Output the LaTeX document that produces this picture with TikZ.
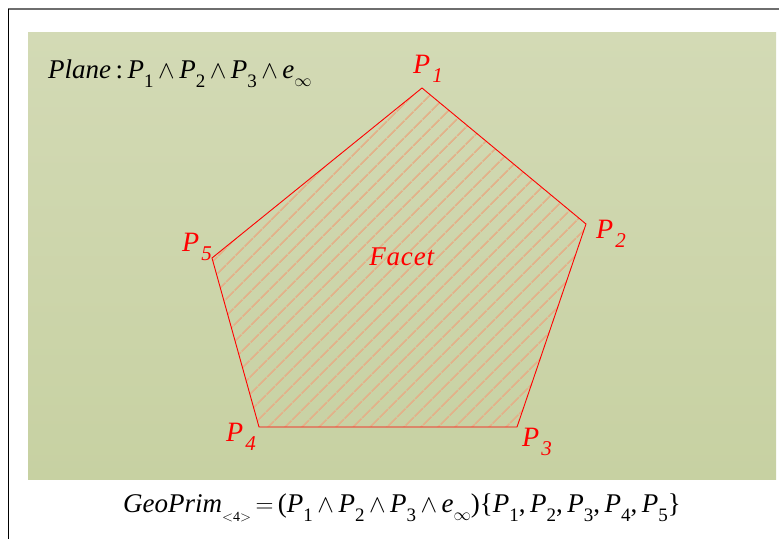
\documentclass[tikz,border=0pt]{standalone}
\usepackage{fontspec}
\setmainfont{Liberation Serif}
\usepackage{tikz}
\usetikzlibrary{patterns.meta}

\definecolor{bgtop}{RGB}{211,218,181}
\definecolor{bgbot}{RGB}{199,209,162}
\definecolor{hatchc}{RGB}{226,178,138}
\definecolor{framegray}{RGB}{110,110,110}

% point with upright index (formulas)
\newcommand{\Pf}[1]{\textit{P}\raisebox{-0.33em}{\fontsize{19}{19}\selectfont #1}}
% point with italic index (vertex labels)
\newcommand{\Pv}[1]{\textit{P}\kern2pt\raisebox{-0.3em}{\fontsize{21}{21}\selectfont\itshape #1}}
\newcommand{\einf}{\textit{e}\raisebox{-0.3em}{\fontsize{16}{16}\selectfont$\infty$}}
\newcommand{\we}{\,$\wedge$\,}

\tikzset{
  formula/.style={font=\fontsize{27}{30}\selectfont, inner sep=0pt},
  vlabel/.style={font=\fontsize{28}{30}\selectfont, text=red, inner sep=0pt},
  facet/.style={draw=red, line width=0.9pt, line join=miter,
    pattern={Lines[angle=45, distance=13pt, line width=1.9pt]}, pattern color=hatchc}
}

\begin{document}
\begin{tikzpicture}[x=1pt, y=-1pt]
\useasboundingbox (0,0) rectangle (779,539);

% frame and background
\draw[framegray, line width=1.8pt] (8,9) -- (779,9);
\draw[black, line width=1.4pt] (8.5,8.5) -- (8.5,539);
\shade[top color=bgtop, bottom color=bgbot] (28,32) rectangle (776,479);

% vertices of the facet
\coordinate (p1) at (422,88);
\coordinate (p2) at (586,224);
\coordinate (p3) at (517,427);
\coordinate (p4) at (259,427);
\coordinate (p5) at (212,258);

\draw[facet] (p1) -- (p2) -- (p3) -- (p4) -- (p5) -- cycle;

% vertex labels
\node[vlabel] (l1) at (428,69) {\Pv{1}};
\node[vlabel] (l2) at (611,234) {\Pv{2}};
\node[vlabel] (l3) at (537,442) {\Pv{3}};
\node[vlabel] (l4) at (241,437) {\Pv{4}};
\node[vlabel] (l5) at (197,247) {\Pv{5}};
\node[vlabel, font=\fontsize{27}{30}\selectfont] (fc) at (402,257) {\textit{F\kern0.8pt a\kern0.8pt c\kern0.8pt e\kern0.8pt t}};

% formulas
\node[formula, anchor=west] (plane) at (48,74)
  {\textit{Plane}\,:\,\Pf{1}\we\Pf{2}\we\Pf{3}\we\einf};
\node[formula] (geo) at (402,508)
  {\textit{GeoPrim}\raisebox{-0.35em}{\fontsize{14}{14}\selectfont$<$4$>$}\,$=$\,(\Pf{1}\we\Pf{2}\we\Pf{3}\we\einf)\{\Pf{1},\,\Pf{2},\,\Pf{3},\,\Pf{4},\,\Pf{5}\}};

\end{tikzpicture}
\end{document}
